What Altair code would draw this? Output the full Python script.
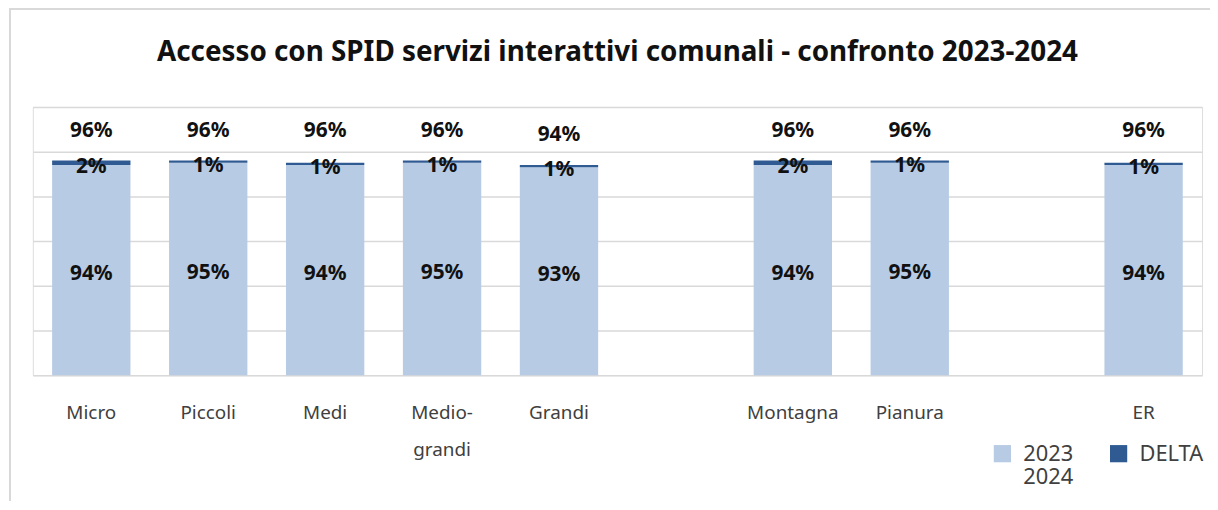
import altair as alt
import pandas as pd

categories = ["Micro", "Piccoli", "Medi", "Medio-grandi", "Grandi", "Montagna", "Pianura", "ER"]
v2023 = [94, 95, 94, 95, 93, 94, 95, 94]
delta = [2, 1, 1, 1, 1, 2, 1, 1]
totals = [96, 96, 96, 96, 94, 96, 96, 96]
x_domain = ["Micro", "Piccoli", "Medi", "Medio-grandi", "Grandi", " ", "Montagna", "Pianura", "  ", "ER"]
series = ["2023 2024", "DELTA"]
colors = ["#B7CBE4", "#2F5B92"]

rows = []
for c, a, d in zip(categories, v2023, delta):
    rows.append({"cat": c, "serie": series[0], "val": a, "ord": 0, "lab": f"{a}%", "mid": a / 2})
    rows.append({"cat": c, "serie": series[1], "val": d, "ord": 1, "lab": f"{d}%", "mid": a + d / 2})
df = pd.DataFrame(rows)
tot = pd.DataFrame({"cat": categories, "tot": totals, "lab": [f"{t}%" for t in totals]})

FONT = "Noto Sans"
x_enc = alt.X("cat:N", scale=alt.Scale(domain=x_domain, paddingInner=0.33, paddingOuter=0.165),
              axis=alt.Axis(title=None, ticks=False, domain=False, labelAngle=0,
                            labelFont=FONT, labelFontSize=19, labelColor="#404040",
                            labelPadding=29, labelLineHeight=37,
                            labelExpr="datum.value == 'Medio-grandi' ? ['Medio-', 'grandi'] : datum.value"))
y_scale = alt.Scale(domain=[0, 120], nice=False)

bars = alt.Chart(df).mark_bar().encode(
    x=x_enc,
    y=alt.Y("val:Q", stack="zero", scale=y_scale,
            axis=alt.Axis(title=None, labels=False, ticks=False, domain=False,
                          values=[0, 20, 40, 60, 80, 100, 120],
                          gridColor="#D9D9D9", gridWidth=1.5)),
    color=alt.Color("serie:N", scale=alt.Scale(domain=series, range=colors),
                    legend=alt.Legend(title=None, orient="none", direction="horizontal",
                                      legendX=965, legendY=338,
                                      symbolType="square", symbolSize=300,
                                      symbolStrokeWidth=0, columnPadding=34,
                                      labelOffset=10,
                                      labelFont=FONT, labelFontSize=22, labelColor="#404040",
                                      labelBaseline="middle",
                                      labelExpr="datum.label == '2023 2024' ? ['2023', '2024'] : [datum.label, '']")),
    order=alt.Order("ord:Q"),
)

seg_text = alt.Chart(df).mark_text(font=FONT, fontSize=21, fontWeight="bold", color="#111111", dy=4).encode(
    x=alt.X("cat:N", scale=alt.Scale(domain=x_domain)),
    y=alt.Y("mid:Q", scale=y_scale),
    text="lab:N",
)

tot_text = alt.Chart(tot).mark_text(font=FONT, fontSize=21, fontWeight="bold", color="#111111", dy=-30).encode(
    x=alt.X("cat:N", scale=alt.Scale(domain=x_domain)),
    y=alt.Y("tot:Q", scale=y_scale),
    text="lab:N",
)

frame = alt.Chart(tot).mark_rect(fill=None, stroke="#D9D9D9", strokeWidth=2, clip=False).encode(
    x=alt.value(-23), x2=alt.value(1300), y=alt.value(-99), y2=alt.value(500)
)

chart = alt.layer(frame, bars, seg_text, tot_text).properties(
    width=1177, height=270,
    title=alt.TitleParams("Accesso con SPID servizi interattivi comunali - confronto 2023-2024",
                          font=FONT, fontSize=28, fontWeight="bold", color="#111111",
                          anchor="middle", offset=-60),
    autosize=alt.AutoSizeParams(type="none"),
    padding={"left": 25, "top": 98, "right": 8, "bottom": 125},
).configure_view(stroke=None).configure(background="white")

chart.save("out.html", embed_options={"renderer": "svg", "actions": False})
